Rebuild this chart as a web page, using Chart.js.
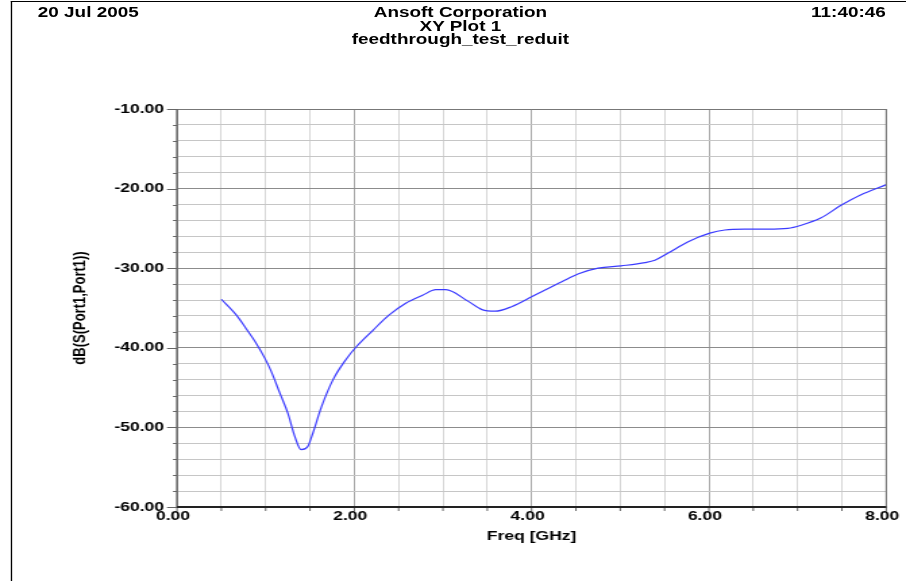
<!DOCTYPE html>
<html>
<head>
<meta charset="utf-8">
<title>XY Plot 1</title>
<script src="https://cdn.jsdelivr.net/npm/chart.js@4.4.1/dist/chart.umd.min.js"></script>
<style>
  html, body { margin: 0; padding: 0; background: #fff; overflow: hidden; }
  /* the original plot is stretched sideways, so draw narrow and scale up */
  #wrap { position: absolute; left: 0; top: 0; width: 671px; height: 581px; transform: scaleX(1.35022); transform-origin: 0 0; }
  #plot { position: absolute; left: 0; top: 0; }
  #frame { position: absolute; left: 8px; top: 1px; width: 800px; height: 800px; border-left: 1px solid #000; border-top: 1px solid #000; }
  .hdr { position: absolute; font: bold 14px "Liberation Sans", Arial, sans-serif; line-height: 14px; color: #000; white-space: nowrap; }
  .mid { left: 341px; transform: translateX(-50%); }
</style>
</head>
<body>
<div id="wrap">
  <div id="frame"></div>
  <canvas id="plot" width="671" height="581"></canvas>
  <div class="hdr" style="left:28px; top:5px;">20 Jul 2005</div>
  <div class="hdr mid" style="top:5px;">Ansoft Corporation</div>
  <div class="hdr mid" style="top:18.5px;">XY Plot 1</div>
  <div class="hdr mid" style="top:32px;">feedthrough_test_reduit</div>
  <div class="hdr" style="right:15px; top:5px;">11:40:46</div>
</div>
<script>
// dB(S(Port1,Port1))
const freqGHz = [0.50, 0.67, 0.78, 0.88, 0.99, 1.06, 1.16, 1.25, 1.33, 1.40,
                 1.475, 1.53, 1.63, 1.76, 1.91, 2.02, 2.21, 2.39, 2.58, 2.77,
                 2.92, 3.03, 3.29, 3.44, 3.59, 3.78, 4.00, 4.34, 4.53, 4.75,
                 5.01, 5.28, 5.39, 5.54, 5.76, 6.01, 6.18, 6.40, 6.66, 6.89,
                 7.04, 7.26, 7.49, 7.71, 8.00];
const s11dB = [-33.9, -35.9, -37.6, -39.2, -41.3, -42.9, -45.7, -48.2, -51.2, -52.8,
               -52.4, -50.8, -47.4, -44.0, -41.4, -39.9, -37.8, -35.9, -34.4, -33.4,
               -32.7, -32.7, -34.2, -35.2, -35.4, -34.8, -33.6, -31.7, -30.7, -30.0,
               -29.7, -29.3, -29.0, -28.1, -26.7, -25.6, -25.2, -25.1, -25.1, -25.0,
               -24.6, -23.7, -22.1, -20.8, -19.5];

const xTickLabels = ['0.00', '2.00', '4.00', '6.00', '8.00'];
const yTickLabels = ['-60.00', '-50.00', '-40.00', '-30.00', '-20.00', '-10.00'];

function labelFor(list, value) {
    const hit = list.find(l => Math.abs(parseFloat(l) - value) < 1e-6);
    return hit || '';
}
function isMajor(value, step) {
    return Math.abs(value / step - Math.round(value / step)) < 1e-6;
}

// axis lines, tick marks and the box round the plot
const plotBox = {
    id: 'plotBox',
    afterDraw(chart) {
        const {ctx, chartArea: a, scales: {x, y}} = chart;
        ctx.save();
        ctx.strokeStyle = '#666';
        ctx.lineWidth = 1;
        ctx.beginPath();
        y.ticks.forEach(t => {
            const py = Math.round(y.getPixelForValue(t.value)) + 0.5;
            const len = isMajor(t.value, 10) ? 7.4 : 3;
            ctx.moveTo(a.left - len, py);
            ctx.lineTo(a.left, py);
        });
        x.ticks.forEach(t => {
            const px = x.getPixelForValue(t.value);
            ctx.moveTo(px, a.bottom);
            ctx.lineTo(px, a.bottom + 4);
        });
        ctx.stroke();

        // top and right edges
        ctx.strokeStyle = '#777';
        ctx.beginPath();
        ctx.moveTo(a.left, a.top + 0.5);
        ctx.lineTo(a.right, a.top + 0.5);
        ctx.moveTo(a.right, a.top);
        ctx.lineTo(a.right, a.bottom);
        ctx.stroke();

        // left axis
        ctx.strokeStyle = '#666';
        ctx.lineWidth = 1.5;
        ctx.beginPath();
        ctx.moveTo(a.left, a.top);
        ctx.lineTo(a.left, a.bottom);
        ctx.stroke();

        // bottom axis
        ctx.strokeStyle = '#222';
        ctx.lineWidth = 2;
        ctx.beginPath();
        ctx.moveTo(a.left, a.bottom);
        ctx.lineTo(a.right, a.bottom);
        ctx.stroke();
        ctx.restore();
    }
};

const tickFont = {family: '"Liberation Sans", Arial, sans-serif', size: 13, weight: 'bold'};

new Chart(document.getElementById('plot'), {
    type: 'line',
    data: {
        datasets: [{
            label: 'dB(S(Port1,Port1))',
            data: freqGHz.map((f, i) => ({x: f, y: s11dB[i]})),
            borderColor: '#3b3bff',
            borderWidth: 1.2,
            pointRadius: 0,
            cubicInterpolationMode: 'monotone',
            fill: false
        }]
    },
    options: {
        responsive: false,
        animation: false,
        devicePixelRatio: 1,
        layout: {padding: {left: 0, right: 12.6, top: 109, bottom: 0}},
        plugins: {
            legend: {display: false},
            tooltip: {enabled: false}
        },
        scales: {
            x: {
                type: 'linear',
                min: 0,
                max: 8,
                afterFit: s => { s.height = 74; },
                border: {display: false},
                grid: {
                    drawTicks: false,
                    lineWidth: 1,
                    color: c => isMajor(c.tick.value, 2) ? '#a8a8a8' : '#d6d6d6'
                },
                ticks: {
                    stepSize: 0.5,
                    autoSkip: false,
                    maxRotation: 0,
                    padding: 2,
                    labelOffset: -3,
                    color: '#000',
                    font: tickFont,
                    callback: v => labelFor(xTickLabels, v)
                },
                title: {
                    display: true,
                    text: 'Freq [GHz]',
                    color: '#000',
                    font: tickFont,
                    padding: {top: 0, bottom: 37}
                }
            },
            y: {
                min: -60,
                max: -10,
                afterFit: s => { s.width = 131.1; },
                border: {display: false},
                grid: {
                    drawTicks: false,
                    lineWidth: 1,
                    color: c => isMajor(c.tick.value, 10) ? '#8c8c8c' : '#c6c6c6'
                },
                ticks: {
                    stepSize: 2,
                    autoSkip: false,
                    padding: 9.6,
                    color: '#000',
                    font: tickFont,
                    callback: v => labelFor(yTickLabels, v)
                },
                title: {
                    display: true,
                    text: 'dB(S(Port1,Port1))',
                    color: '#000',
                    font: tickFont,
                    padding: {top: 51.5, bottom: 0}
                }
            }
        }
    },
    plugins: [plotBox]
});
</script>
</body>
</html>
